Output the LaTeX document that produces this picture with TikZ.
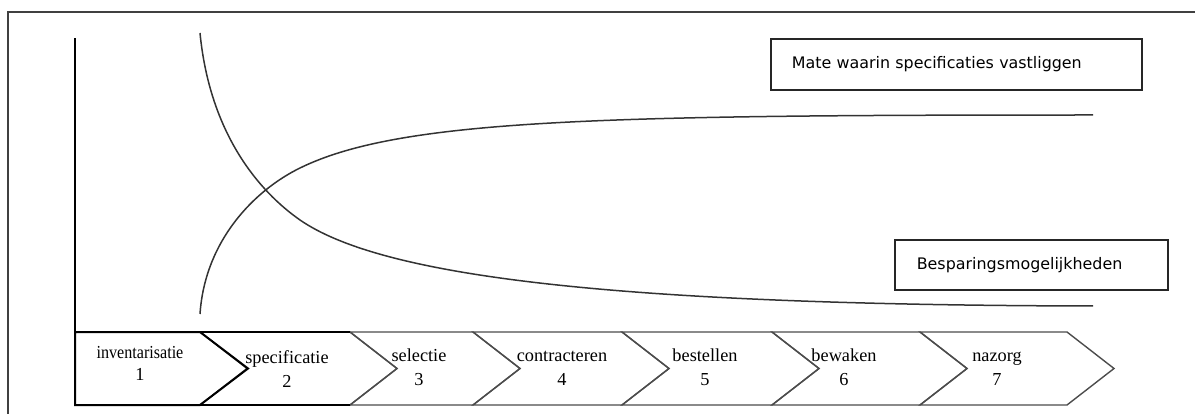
\documentclass[tikz,border=0pt]{standalone}
\usepackage{graphicx}
\usepackage{fontspec}
\setmainfont{Liberation Serif}
\newfontfamily\boxfont{DejaVu Sans}
\usetikzlibrary{calc,positioning}

\tikzset{
  stagelabel/.style={anchor=base, align=center, inner sep=0pt,
    font=\fontsize{18.3}{24}\selectfont},
  curvelabel/.style={draw=black!85, line width=1.6pt, anchor=north west,
    align=left, font=\boxfont\fontsize{15.9}{19}\selectfont},
  stagechevron/.style={line width=1.4pt, black!70, line join=miter},
  trendline/.style={line width=1.5pt, black!80},
}

\begin{document}
\begin{tikzpicture}[x=1pt,y=-1pt]
  \useasboundingbox (0,0) rectangle (1195,414);
  % frame
  \draw[line width=2.6pt, black!75] (8,414) -- (8,12) -- (1195,12);
  % axis
  \coordinate (o) at (75,332);
  \draw[line width=1.5pt] (o) -- (75,38);
  % stages
  \def\ytop{332} \def\ybot{405} \def\ymid{368.5}
  \foreach \a/\b in {200/350,350/473,473/622,622/772,772/920,920/1067} {
    \draw[stagechevron] (\a,\ytop) -- (\b,\ytop) -- (\b+47,\ymid) -- (\b,\ybot)
      -- (\a,\ybot) -- (\a+47,\ymid) -- cycle;
  }
  \draw[line width=2pt] (o) -- (200,\ytop) -- (248,\ymid) -- (200,\ybot) -- (75,\ybot) -- cycle;
  \draw[line width=1.8pt] (200,\ytop) -- (350,\ytop) (200,\ybot) -- (350,\ybot);
  \node[stagelabel] (inv) at (140,380) {\scalebox{0.88}[1]{inventarisatie}\\[-3pt]1};
  \node[stagelabel] (spec) at (287,387) {specificatie\\2};
  \node[stagelabel] (sel) at (419,385) {selectie\\3};
  \node[stagelabel] (contr) at (562,385) {contracteren\\4};
  \node[stagelabel] (best) at (705,385) {bestellen\\5};
  \node[stagelabel] (bew) at (844,385) {bewaken\\6};
  \node[stagelabel] (naz) at (997,385) {nazorg\\7};
  % curves
  \draw[trendline] (200,314) .. controls (205,240) and (255,190) .. (300,168)
    .. controls (400,119) and (600,115) .. (1093,115);
  \draw[trendline] (200,33) .. controls (210,135) and (260,192) .. (300,220)
    .. controls (380,275) and (600,305) .. (1093,306);
  % labels
  \node[curvelabel, text width=329pt, inner xsep=21pt, minimum height=51pt]
    (matebox) at (770,38) {Mate waarin specificaties vastliggen};
  \node[curvelabel, text width=229pt, inner xsep=22pt, minimum height=50pt]
    (besparingbox) at (894,239) {Besparingsmogelijkheden};
\end{tikzpicture}
\end{document}
